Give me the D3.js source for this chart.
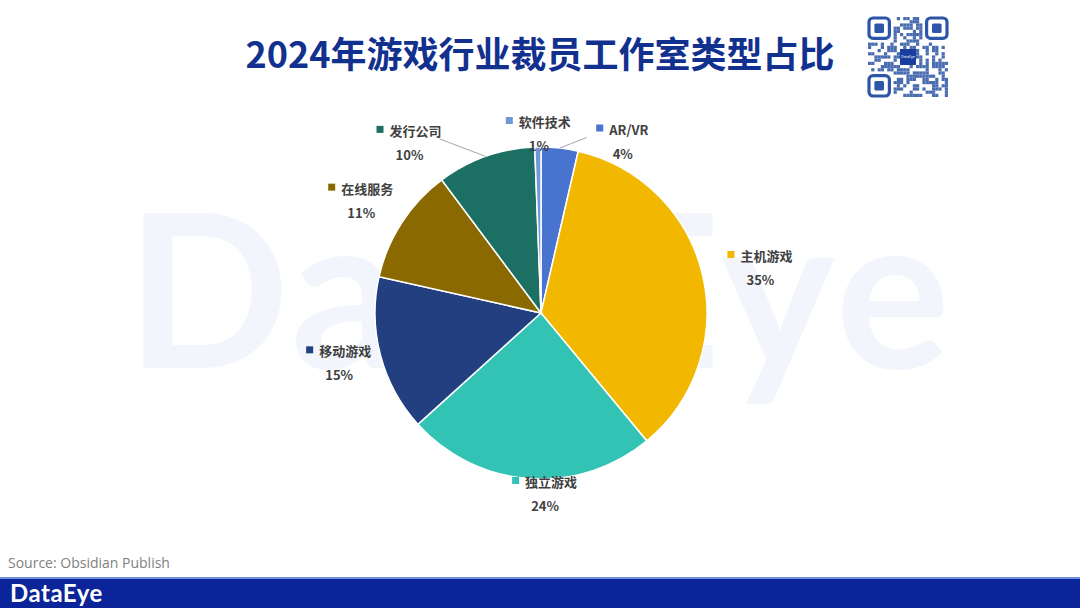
<!DOCTYPE html>
<html>
<head>
<meta charset="utf-8">
<script src="https://cdn.jsdelivr.net/npm/d3@7"></script>
<style>
  html, body { margin: 0; padding: 0; background: #fff; }
  svg { display: block; font-family: "Noto Sans CJK SC", "Open Sans", sans-serif; }
</style>
</head>
<body>
<div id="vis"></div>
<script>
// slice data, clockwise from 12 o'clock
var categories = ["AR/VR", "主机游戏", "独立游戏", "移动游戏", "在线服务", "发行公司", "软件技术"];
var values     = [3.6, 35.4, 24.3, 15.2, 11.3, 9.6, 0.6];
var pctLabels  = ["4%", "35%", "24%", "15%", "11%", "10%", "1%"];
var colors     = ["#4874d0", "#f2b800", "#33c3b5", "#223f80", "#8a6a00", "#1c6f63", "#6f98d8"];

var width = 1080, height = 608;
var cx = 541, cy = 313, r = 166;

var svg = d3.select("#vis").append("svg")
    .attr("width", width)
    .attr("height", height);

// watermark
svg.append("text")
    .attr("x", 540).attr("y", 368)
    .attr("text-anchor", "middle")
    .attr("font-family", "Lato, sans-serif")
    .attr("font-weight", "bold")
    .attr("font-size", 215)
    .attr("letter-spacing", 4)
    .attr("fill", "#f2f6fc")
    .text("DataEye");

// title
svg.append("text")
    .attr("x", 540).attr("y", 68)
    .attr("text-anchor", "middle")
    .attr("font-weight", "bold")
    .attr("font-size", 36)
    .attr("fill", "#12318f")
    .text("2024年游戏行业裁员工作室类型占比");

// qr-ish badge (decorative)
var qr = svg.append("g").attr("transform", "translate(868,17)");
var cell = 80 / 25;
function hash(i, j) { var h = (i * 374761393 + j * 668265263) ^ (i * j * 1274126177); h = (h ^ (h >>> 13)) * 1103515245; return ((h >>> 16) & 7) < 4; }
for (var i = 0; i < 25; i++) {
  for (var j = 0; j < 25; j++) {
    var inFinder = (i < 8 && j < 8) || (i < 8 && j > 16) || (i > 16 && j < 8);
    var inCenter = i > 9 && i < 15 && j > 9 && j < 15;
    if (!inFinder && !inCenter && hash(i, j)) {
      qr.append("rect").attr("x", j * cell).attr("y", i * cell)
        .attr("width", cell).attr("height", cell).attr("fill", "#4a6cb0");
    }
  }
}
[[0, 0], [0, 18], [18, 0]].forEach(function (p) {
  qr.append("rect").attr("x", p[1] * cell + 1).attr("y", p[0] * cell + 1)
    .attr("width", 7 * cell - 2).attr("height", 7 * cell - 2).attr("rx", 4)
    .attr("fill", "none").attr("stroke", "#2d55a8").attr("stroke-width", cell);
  qr.append("rect").attr("x", (p[1] + 2) * cell).attr("y", (p[0] + 2) * cell)
    .attr("width", 3 * cell).attr("height", 3 * cell).attr("rx", 1.5).attr("fill", "#2d55a8");
});
qr.append("rect").attr("x", 10 * cell).attr("y", 10 * cell)
  .attr("width", 5 * cell).attr("height", 5 * cell).attr("fill", "#1a3da0");
qr.append("text").attr("x", 12.5 * cell).attr("y", 12.9 * cell)
  .attr("text-anchor", "middle").attr("font-size", 3.5).attr("fill", "#fff").text("DataEye");

// pie
var pie = d3.pie().sort(null).value(function (d) { return d; });
var arcs = pie(values);
var arc = d3.arc().innerRadius(0).outerRadius(r);

var g = svg.append("g").attr("transform", "translate(" + cx + "," + cy + ")");

g.selectAll("path")
    .data(arcs)
    .join("path")
    .attr("d", arc)
    .attr("fill", function (d, i) { return colors[i]; })
    .attr("stroke", "#fff")
    .attr("stroke-width", 1.5);

// label layout: angle (deg, clockwise from top) and distance of label centre
var labelLayout = {
  "AR/VR":   { a: 25.5, d: 190, leader: true },
  "主机游戏": { a: 78.4, d: 224 },
  "独立游戏": { a: 178.7, d: 181 },
  "移动游戏": { a: 256, d: 208 },
  "在线服务": { a: 302, d: 212 },
  "发行公司": { a: 322.3, d: 215, leader: true },
  "软件技术": { a: 359.3, d: 179 }
};

function polar(a, d) {
  var rad = a * Math.PI / 180;
  return [Math.sin(rad) * d, -Math.cos(rad) * d];
}

arcs.forEach(function (d, i) {
  var lay = labelLayout[categories[i]];
  var p = polar(lay.a, lay.d);

  if (lay.leader) {
    var mid = (d.startAngle + d.endAngle) / 2 * 180 / Math.PI;
    var edge = polar(mid, r);
    var start = [p[0] + (p[0] < 0 ? 30 : -36), p[1] - 4];
    g.append("line")
      .attr("x1", start[0]).attr("y1", start[1])
      .attr("x2", edge[0]).attr("y2", edge[1])
      .attr("stroke", "#a6a6a6").attr("stroke-width", 1);
  }

  var lg = g.append("g").attr("transform", "translate(" + p[0] + "," + p[1] + ")");
  var name = lg.append("text")
    .attr("x", 6).attr("y", -7)
    .attr("text-anchor", "middle")
    .attr("font-weight", "bold")
    .attr("font-size", 13)
    .attr("fill", "#404040")
    .text(categories[i]);
  var w = name.node().getComputedTextLength();
  lg.append("rect")
    .attr("x", 6 - w / 2 - 13).attr("y", -17)
    .attr("width", 7).attr("height", 7)
    .attr("fill", colors[i]);
  lg.append("text")
    .attr("x", 0).attr("y", 17)
    .attr("text-anchor", "middle")
    .attr("font-weight", "bold")
    .attr("font-size", 13)
    .attr("fill", "#404040")
    .text(pctLabels[i]);
});

// source + footer bar
svg.append("text")
    .attr("x", 8).attr("y", 568)
    .attr("font-family", "Open Sans, sans-serif")
    .attr("font-size", 14)
    .attr("fill", "#7f7f7f")
    .text("Source: Obsidian Publish");

svg.append("rect").attr("x", 0).attr("y", 577).attr("width", width).attr("height", 2).attr("fill", "#6f8fe0");
svg.append("rect").attr("x", 0).attr("y", 579).attr("width", width).attr("height", 29).attr("fill", "#0b249a");
svg.append("text")
    .attr("x", 10).attr("y", 602)
    .attr("font-family", "Lato, sans-serif")
    .attr("font-weight", "bold")
    .attr("font-size", 24)
    .attr("letter-spacing", 0.5)
    .attr("fill", "#fff")
    .text("DataEye");
</script>
</body>
</html>
